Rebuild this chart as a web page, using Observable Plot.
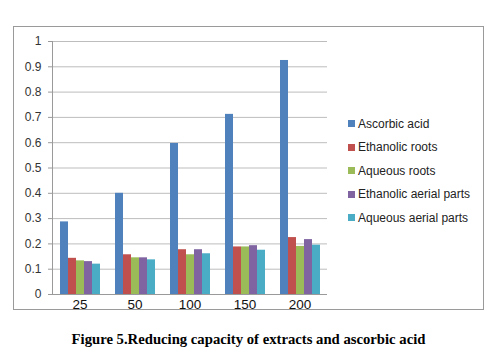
<!DOCTYPE html>
<html>
<head>
<meta charset="utf-8">
<script src="https://cdn.jsdelivr.net/npm/d3@7"></script>
<script src="https://cdn.jsdelivr.net/npm/@observablehq/plot@0.6"></script>
<style>
  html, body { margin: 0; padding: 0; background: #fff; }
  #wrap { position: relative; width: 500px; height: 363px; overflow: hidden; }
  #box { position: absolute; left: 13px; top: 26px; width: 469px; height: 282px; border: 1.5px solid #9a9a9a; box-sizing: content-box; }
  #chart { position: absolute; left: 0; top: 0; }
  #legend { position: absolute; left: 348px; top: 112px; font-family: "Liberation Sans", Arial, sans-serif; font-size: 12px; color: #222; }
  #legend .item { height: 23.5px; display: flex; align-items: center; white-space: nowrap; }
  #legend .sw { width: 7px; height: 7px; margin-right: 3px; }
  #caption { position: absolute; left: 0; top: 331px; width: 497px; text-align: center; font-family: "Liberation Serif", "Times New Roman", serif; font-weight: bold; font-size: 14.7px; color: #000; }
</style>
</head>
<body>
<div id="wrap">
  <div id="box"></div>
  <div id="chart"></div>
  <div id="legend"></div>
  <div id="caption">Figure 5.Reducing capacity of extracts and ascorbic acid</div>
</div>
<script>
const categories = ["25", "50", "100", "150", "200"];
const seriesNames = ["Ascorbic acid", "Ethanolic roots", "Aqueous roots", "Ethanolic aerial parts", "Aqueous aerial parts"];
const ascorbicAcid = [0.287, 0.400, 0.597, 0.712, 0.925];
const ethanolicRoots = [0.143, 0.157, 0.177, 0.188, 0.225];
const aqueousRoots = [0.133, 0.145, 0.157, 0.188, 0.190];
const ethanolicAerial = [0.130, 0.145, 0.177, 0.193, 0.217];
const aqueousAerial = [0.120, 0.137, 0.161, 0.175, 0.195];
const seriesColors = ["#4F81BD", "#C0504D", "#9BBB59", "#8064A2", "#4BACC6"];
const yTicks = [0, 0.1, 0.2, 0.3, 0.4, 0.5, 0.6, 0.7, 0.8, 0.9, 1];

const seriesValues = [ascorbicAcid, ethanolicRoots, aqueousRoots, ethanolicAerial, aqueousAerial];
const data = [];
categories.forEach((c, i) => {
  seriesNames.forEach((s, j) => data.push({cat: c, series: s, value: seriesValues[j][i]}));
});

const chart = Plot.plot({
  width: 500,
  height: 320,
  marginLeft: 50,
  marginRight: 172,
  marginTop: 41,
  marginBottom: 26,
  style: {fontFamily: "'Liberation Sans', Arial, sans-serif", background: "transparent", overflow: "visible"},
  fx: {domain: categories, padding: 0, label: null},
  x: {domain: seriesNames, paddingInner: 0, paddingOuter: 0.833, axis: null},
  y: {domain: [0, 1], axis: null, label: null},
  color: {domain: seriesNames, range: seriesColors},
  marks: [
    Plot.ruleY(yTicks.filter(d => d > 0), {stroke: "#bdbdbd", strokeWidth: 1}),
    Plot.barY(data, {fx: "cat", x: "series", y: "value", fill: "series"}),
    Plot.ruleY([0], {stroke: "#9a9a9a", strokeWidth: 1}),
    Plot.frame({anchor: "left", stroke: "#9a9a9a", facetAnchor: "left"}),
    Plot.axisY(yTicks, {anchor: "left", label: null, tickSize: 4, tickPadding: 7, fontSize: 12, stroke: "#9a9a9a", fill: "#333", tickFormat: d => String(d), facetAnchor: "left"}),
    Plot.axisFx({anchor: "bottom", tickSize: 0, tickPadding: 5, fontSize: 13.5, fill: "#111", label: null})
  ]
});
document.getElementById("chart").appendChild(chart);

const legend = document.getElementById("legend");
seriesNames.forEach((s, j) => {
  const item = document.createElement("div");
  item.className = "item";
  const sw = document.createElement("span");
  sw.className = "sw";
  sw.style.background = seriesColors[j];
  const t = document.createElement("span");
  t.textContent = s;
  item.appendChild(sw);
  item.appendChild(t);
  legend.appendChild(item);
});
</script>
</body>
</html>
